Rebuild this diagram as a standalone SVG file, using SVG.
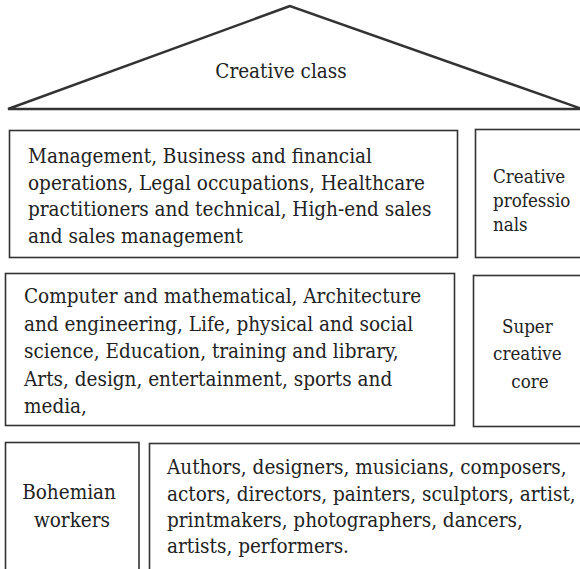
<svg xmlns="http://www.w3.org/2000/svg" width="580" height="569" viewBox="0 0 580 569">
  <style>
    .frame { fill: #fff; stroke: #333; stroke-width: 1.6; }
    .roof { fill: #fff; stroke: #333; stroke-width: 2.4; stroke-linejoin: miter; }
    .lbl { fill: #222; font-family: "DejaVu Serif Condensed", "DejaVu Serif", serif; font-stretch: condensed; }
    .body { font-size: 20.5px; }
    .side { font-size: 18.6px; }
    .mid { text-anchor: middle; }
  </style>
  <rect width="580" height="569" fill="#fff"/>

  <!-- roof: the creative class -->
  <g id="creative-class">
    <polygon class="roof" points="290,6 8,109 582,109"/>
    <text class="lbl body mid" x="281" y="78">Creative class</text>
  </g>

  <!-- first tier: occupations -->
  <g id="professions-list">
    <rect class="frame" x="9.5" y="130.5" width="448" height="127"/>
    <text class="lbl body">
      <tspan x="28" y="163">Management, Business and financial</tspan>
      <tspan x="28" y="189.5">operations, Legal occupations, Healthcare</tspan>
      <tspan x="28" y="216">practitioners and technical, High-end sales</tspan>
      <tspan x="28" y="242.5">and sales management</tspan>
    </text>
  </g>
  <g id="creative-professionals">
    <rect class="frame" x="475.5" y="129.5" width="120" height="128"/>
    <text class="lbl side">
      <tspan x="493" y="183">Creative</tspan>
      <tspan x="493" y="207">professio</tspan>
      <tspan x="493" y="231">nals</tspan>
    </text>
  </g>

  <!-- second tier: super creative core -->
  <g id="core-list">
    <rect class="frame" x="5.5" y="273.5" width="449" height="152"/>
    <text class="lbl body">
      <tspan x="24" y="303">Computer and mathematical, Architecture</tspan>
      <tspan x="24" y="330.5">and engineering, Life, physical and social</tspan>
      <tspan x="24" y="358">science, Education, training and library,</tspan>
      <tspan x="24" y="385.5">Arts, design, entertainment, sports and</tspan>
      <tspan x="24" y="413">media,</tspan>
    </text>
  </g>
  <g id="super-creative-core">
    <rect class="frame" x="473.5" y="275.5" width="120" height="151"/>
    <text class="lbl side mid">
      <tspan x="530" y="333">Super</tspan>
      <tspan x="530" y="360">creative</tspan>
      <tspan x="530" y="388">core</tspan>
    </text>
  </g>

  <!-- third tier: bohemians -->
  <g id="bohemian-workers">
    <rect class="frame" x="5.5" y="442.5" width="133.5" height="140"/>
    <text class="lbl body mid">
      <tspan x="72" y="499">Bohemian</tspan>
      <tspan x="72" y="527">workers</tspan>
    </text>
  </g>
  <g id="bohemian-list">
    <rect class="frame" x="149.5" y="443.5" width="445" height="140"/>
    <text class="lbl body">
      <tspan x="167" y="474">Authors, designers, musicians, composers,</tspan>
      <tspan x="167" y="501">actors, directors, painters, sculptors, artist,</tspan>
      <tspan x="167" y="527">printmakers, photographers, dancers,</tspan>
      <tspan x="167" y="553">artists, performers.</tspan>
    </text>
  </g>

  <g id="connectors"/>
</svg>
